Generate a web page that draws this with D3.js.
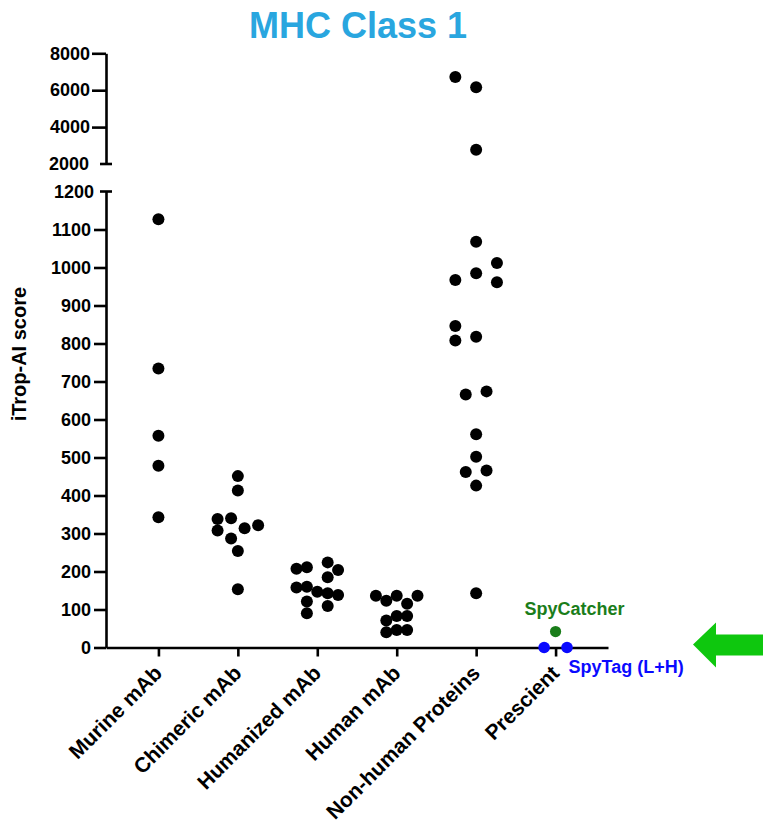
<!DOCTYPE html>
<html><head><meta charset="utf-8">
<script src="https://cdn.jsdelivr.net/npm/d3@7"></script>
<style>
body{margin:0;background:#fff}
svg{display:block}
text{font-family:"Liberation Sans",Arial,Helvetica,sans-serif;font-weight:bold}
</style>
</head><body>
<svg id="chart" width="763" height="822"></svg>
<script>
// ---------- data ----------
const categories = ["Murine mAb", "Chimeric mAb", "Humanized mAb", "Human mAb", "Non-human Proteins", "Prescient"];

const murineScores = [1127, 734, 557, 478, 343];
const murineLanes  = [0, 0, 0, 0, 0];

const chimericScores = [451, 413, 340, 338, 322, 314, 308, 287, 254, 153];
const chimericLanes  = [0, 0, -0.65, -1.95, 1.95, 0.65, -1.95, -0.65, 0, 0];

const humanizedScores = [224, 211, 207, 204, 185, 160, 158, 147, 143, 138, 121, 109, 90];
const humanizedLanes  = [1, -1, -2, 2, 1, -1, -2, 0, 1, 2, -1, 1, -1];

const humanScores = [136, 123, 136, 115, 136, 71, 83, 83, 40, 46, 46];
const humanLanes  = [-2, -1, 0, 1, 2, -1, 0, 1, -1, 0, 1];

const nonHumanScores = [6719, 6162, 2773, 1068, 1012, 985, 967, 961, 846, 818, 808, 674, 666, 561, 502, 466, 462, 426, 143];
const nonHumanLanes  = [-2, 0, 0, 0, 2, 0, -2, 2, -2, 0, -2, 1, -1, 0, 0, 1, -1, 0, 0];

const spyCatcherScores = [42];
const spyCatcherLanes  = [0];
const spyTagScores = [0, 0];
const spyTagLanes  = [-1.1, 1.1];

const lowerTicks = [0, 100, 200, 300, 400, 500, 600, 700, 800, 900, 1000, 1100];
const lowerBreak = 1200;
const upperTicks = [4000, 6000, 8000];
const upperBreak = 2000;

const groups = [
  {cat: categories[0], scores: murineScores, lanes: murineLanes, color: "#000"},
  {cat: categories[1], scores: chimericScores, lanes: chimericLanes, color: "#000"},
  {cat: categories[2], scores: humanizedScores, lanes: humanizedLanes, color: "#000"},
  {cat: categories[3], scores: humanScores, lanes: humanLanes, color: "#000"},
  {cat: categories[4], scores: nonHumanScores, lanes: nonHumanLanes, color: "#000"},
  {cat: categories[5], scores: spyCatcherScores, lanes: spyCatcherLanes, color: "#1a7d1a", r: 5.6},
  {cat: categories[5], scores: spyTagScores, lanes: spyTagLanes, color: "#0a0aff", r: 5.8}
];

// ---------- layout ----------
const svg = d3.select("#chart");
const axisX0 = 106, axisX1 = 608;

const x = d3.scalePoint().domain(categories).range([axisX0, axisX1]).padding(0.66);
const yLow = d3.scaleLinear().domain([0, lowerBreak]).range([647.5, 191.5]);
const yHigh = d3.scaleLinear().domain([upperBreak, 8000]).range([164, 53.3]);
const lane = d3.scaleLinear().domain([0, 1]).range([0, 10.4]);
const yVal = v => v > lowerBreak ? yHigh(v) : yLow(v);

// title
svg.append("text").attr("x", 358).attr("y", 38).attr("text-anchor", "middle")
  .attr("font-size", 36).attr("fill", "#29a6df").text("MHC Class 1");

// y axis title
svg.append("text").attr("transform", `translate(26,${yLow(772)}) rotate(-90)`)
  .attr("text-anchor", "middle").attr("font-size", 20).attr("fill", "#000").text("iTrop-AI score");

function styleAxis(g) {
  g.selectAll("path,line").attr("stroke", "#000").attr("stroke-width", 2.6);
  g.selectAll("text").attr("font-size", 18).attr("fill", "#000")
    .style("font-family", '"Liberation Sans",Arial,sans-serif').style("font-weight", "bold");
}

// lower y axis
const gLow = svg.append("g").attr("transform", `translate(${axisX0},0)`)
  .call(d3.axisLeft(yLow).tickValues(lowerTicks).tickSize(12).tickPadding(3).tickSizeOuter(0).tickFormat(d3.format("d")));
styleAxis(gLow);
// upper y axis
const gHigh = svg.append("g").attr("transform", `translate(${axisX0},0)`)
  .call(d3.axisLeft(yHigh).tickValues(upperTicks).tickSize(14).tickPadding(2).tickSizeOuter(0).tickFormat(d3.format("d")));
styleAxis(gHigh);

// break caps
[[yLow, lowerBreak], [yHigh, upperBreak]].forEach(([s, v]) => {
  svg.append("line").attr("x1", axisX0 - 6).attr("x2", axisX0 + 6)
    .attr("y1", s(v)).attr("y2", s(v)).attr("stroke", "#000").attr("stroke-width", 2.6);
  svg.append("text").attr("x", axisX0 - (v === lowerBreak ? 12 : 17)).attr("y", s(v)).attr("dy", "0.35em")
    .attr("text-anchor", "end").attr("font-size", 18).attr("fill", "#000").text(v);
});

// x axis
const gX = svg.append("g").attr("transform", `translate(0,${yLow(0)})`)
  .call(d3.axisBottom(x).tickSize(9).tickSizeOuter(0).tickFormat(""));
styleAxis(gX);

// x labels
svg.append("g").selectAll("text").data(categories).join("text")
  .attr("transform", d => `translate(${x(d) + 5},${yLow(0) + 27}) rotate(-45)`)
  .attr("text-anchor", "end").attr("font-size", 21).attr("fill", "#000").text(d => d);

// points
groups.forEach(g => {
  svg.append("g").selectAll("circle").data(g.scores.map((s, i) => ({s, l: g.lanes[i]}))).join("circle")
    .attr("cx", d => x(g.cat) + lane(d.l))
    .attr("cy", d => yVal(d.s))
    .attr("r", g.r || 6)
    .attr("fill", g.color);
});

// annotations
const px = x(categories[5]);
svg.append("text").attr("x", px + 19).attr("y", yVal(spyCatcherScores[0]) - 17)
  .attr("text-anchor", "middle").attr("font-size", 18).attr("fill", "#1a7d1a").text("SpyCatcher");
svg.append("text").attr("x", px + 13).attr("y", yLow(0) + 25)
  .attr("text-anchor", "start").attr("font-size", 18).attr("fill", "#0a0aff").text("SpyTag (L+H)");

// arrow
const ay = yLow(0) - 3, tipX = axisX1 + 85;
svg.append("path")
  .attr("d", `M${tipX},${ay} L${tipX + 23},${ay - 22} L${tipX + 23},${ay - 10} L770,${ay - 10} L770,${ay + 11} L${tipX + 23},${ay + 11} L${tipX + 23},${ay + 23} Z`)
  .attr("fill", "#0ec70e");
</script>
</body></html>
